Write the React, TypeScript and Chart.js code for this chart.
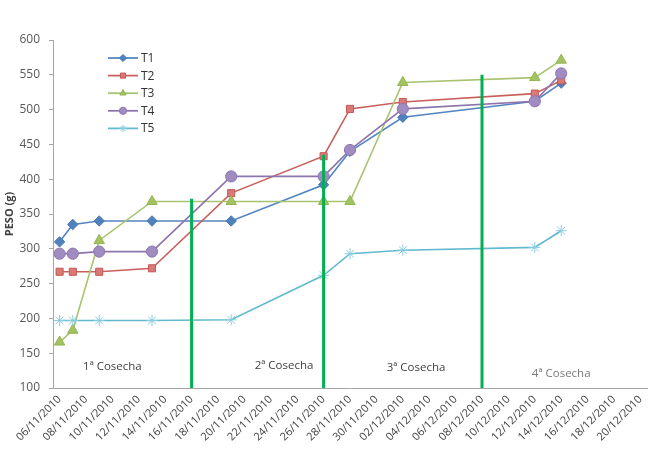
import React, { useEffect, useRef } from "react";
import { Chart, registerables } from "chart.js";
import { drawPoint } from "chart.js/helpers";

Chart.register(...registerables);

// Every calendar day on the horizontal axis (one category per day)
const days = [
  "06/11/2010", "07/11/2010", "08/11/2010", "09/11/2010", "10/11/2010", "11/11/2010",
  "12/11/2010", "13/11/2010", "14/11/2010", "15/11/2010", "16/11/2010", "17/11/2010",
  "18/11/2010", "19/11/2010", "20/11/2010", "21/11/2010", "22/11/2010", "23/11/2010",
  "24/11/2010", "25/11/2010", "26/11/2010", "27/11/2010", "28/11/2010", "29/11/2010",
  "30/11/2010", "01/12/2010", "02/12/2010", "03/12/2010", "04/12/2010", "05/12/2010",
  "06/12/2010", "07/12/2010", "08/12/2010", "09/12/2010", "10/12/2010", "11/12/2010",
  "12/12/2010", "13/12/2010", "14/12/2010", "15/12/2010", "16/12/2010", "17/12/2010",
  "18/12/2010", "19/12/2010", "20/12/2010",
];

// Dates the fruits were weighed
const sampleDates = [
  "06/11/2010", "07/11/2010", "09/11/2010", "13/11/2010", "19/11/2010",
  "26/11/2010", "28/11/2010", "02/12/2010", "12/12/2010", "14/12/2010",
];

// Weight (g) per treatment
const t1 = [310, 335, 340, 340, 340, 392, 440, 489, 512, 538];
const t2 = [267, 267, 267, 272, 380, 433, 501, 511, 523, 542];
const t3 = [166, 183, 312, 368, 368, 368, 368, 539, 546, 571];
const t4 = [293, 293, 296, 296, 404, 404, 442, 501, 512, 552];
const t5 = [197, 197, 197, 197, 198, 262, 293, 298, 302, 326];

// Harvest dividers: date and top of the marker line
const harvestDates = ["16/11/2010", "26/11/2010", "08/12/2010"];
const harvestTops = [372, 435, 550];

// Harvest captions, anchored to a date and a weight
const harvestLabels = ["1ª Cosecha", "2ª Cosecha", "3ª Cosecha", "4ª Cosecha"];
const harvestLabelDates = ["10/11/2010", "23/11/2010", "03/12/2010", "14/12/2010"];
const harvestLabelValues = [130.5, 131.5, 129.5, 121];
const harvestLabelColors = ["#404040", "#404040", "#404040", "#7a7a7a"];

const yTicks = [100, 150, 200, 250, 300, 350, 400, 450, 500, 550, 600];

const seriesNames = ["T1", "T2", "T3", "T4", "T5"];
const seriesValues = [t1, t2, t3, t4, t5];
const lineColors = ["#5485C0", "#C95F5C", "#A6C470", "#8D74AE", "#62B8CE"];
const markerFills = ["#4F81BD", "#D87A77", "#A3C363", "#A08CC0", "#9FD6E4"];
const markerBorders = ["#4A7AB4", "#C45855", "#93B451", "#8E77B0", "#8ACDDE"];
const markerStyles = ["rectRot", "rect", "triangle", "circle", "star"];
const markerRadius = [5.2, 5, 6, 5.6, 5.5];

const FONT = "'Open Sans', 'DejaVu Sans', sans-serif";

const overlayPlugin = {
  id: "overlay",
  afterDatasetsDraw(chart: any) {
    const { ctx, scales } = chart;
    const xs = scales.x;
    const ys = scales.y;
    ctx.save();

    // harvest captions
    ctx.font = `11.5px ${FONT}`;
    ctx.textAlign = "center";
    ctx.textBaseline = "middle";
    harvestLabels.forEach((txt, i) => {
      ctx.fillStyle = harvestLabelColors[i];
      const px = xs.getPixelForValue(days.indexOf(harvestLabelDates[i]));
      const py = ys.getPixelForValue(harvestLabelValues[i]);
      ctx.fillText(txt, px, py);
    });

    // legend box inside the plot
    const lx = 108;
    const ly = 58;
    const step = 17.6;
    seriesNames.forEach((name, i) => {
      const y = ly + i * step;
      ctx.strokeStyle = lineColors[i];
      ctx.lineWidth = 1.75;
      ctx.beginPath();
      ctx.moveTo(lx, y);
      ctx.lineTo(lx + 30, y);
      ctx.stroke();
      ctx.fillStyle = markerFills[i];
      ctx.strokeStyle = markerBorders[i];
      ctx.lineWidth = 1;
      drawPoint(ctx, { pointStyle: markerStyles[i], radius: 3.6, rotation: 0, borderWidth: 1 } as any, lx + 15, y);
      ctx.fillStyle = "#333333";
      ctx.font = `12px ${FONT}`;
      ctx.textAlign = "left";
      ctx.textBaseline = "middle";
      ctx.fillText(name, lx + 33, y + 0.5);
    });
    ctx.restore();
  },
};

export default function App() {
  const ref = useRef<HTMLCanvasElement | null>(null);

  useEffect(() => {
    if (!ref.current) return;

    const seriesSets = seriesNames.map((name, i) => ({
      label: name,
      data: sampleDates.map((d, k) => ({ x: d, y: seriesValues[i][k] })),
      borderColor: lineColors[i],
      borderWidth: 1.6,
      backgroundColor: markerFills[i],
      pointBackgroundColor: markerFills[i],
      pointBorderColor: markerBorders[i],
      pointBorderWidth: 1,
      pointStyle: markerStyles[i],
      pointRadius: markerRadius[i],
      tension: 0,
      fill: false,
      order: 10 - i,
    }));

    const harvestSets = harvestDates.map((d, i) => ({
      label: "h" + i,
      data: [
        { x: d, y: 100 },
        { x: d, y: harvestTops[i] },
      ],
      borderColor: "#00B050",
      borderWidth: 3,
      pointRadius: 0,
      fill: false,
      order: 0,
    }));

    const chart = new Chart(ref.current, {
      type: "line",
      data: { labels: days, datasets: [...harvestSets, ...seriesSets] as any },
      options: {
        responsive: false,
        animation: false,
        devicePixelRatio: 1,
        layout: { padding: { top: 40, right: 9, left: 3, bottom: 0 } },
        plugins: { legend: { display: false }, tooltip: { enabled: false } },
        scales: {
          x: {
            type: "category",
            offset: true,
            grid: { display: false, drawTicks: false },
            border: { display: true, color: "#a6a6a6", width: 1 },
            ticks: {
              autoSkip: false,
              minRotation: 45,
              maxRotation: 45,
              padding: 5,
              color: "#404040",
              font: { family: FONT, size: 11 },
              callback: (_v: any, i: number) => (i % 2 === 0 ? days[i] : null),
            },
            afterFit: (s: any) => {
              s.height = 62;
            },
          },
          y: {
            min: 100,
            max: 600,
            afterBuildTicks: (s: any) => {
              s.ticks = yTicks.map((v) => ({ value: v }));
            },
            grid: { drawOnChartArea: false, tickLength: 4, color: "#a6a6a6" },
            border: { display: true, color: "#a6a6a6", width: 1 },
            ticks: {
              padding: 9,
              color: "#595959",
              font: { family: FONT, size: 12 },
            },
            title: {
              display: true,
              text: "PESO (g)",
              color: "#404040",
              font: { family: FONT, size: 11, weight: "bold" },
              padding: { top: 0, bottom: 0 },
            },
            afterFit: (s: any) => {
              s.width = 50;
            },
          },
        },
      },
      plugins: [overlayPlugin],
    });

    return () => chart.destroy();
  }, []);

  return (
    <div style={{ position: "fixed", left: 0, top: 0, width: 656, height: 450, background: "#ffffff" }}>
      <canvas ref={ref} width={656} height={450} />
    </div>
  );
}
